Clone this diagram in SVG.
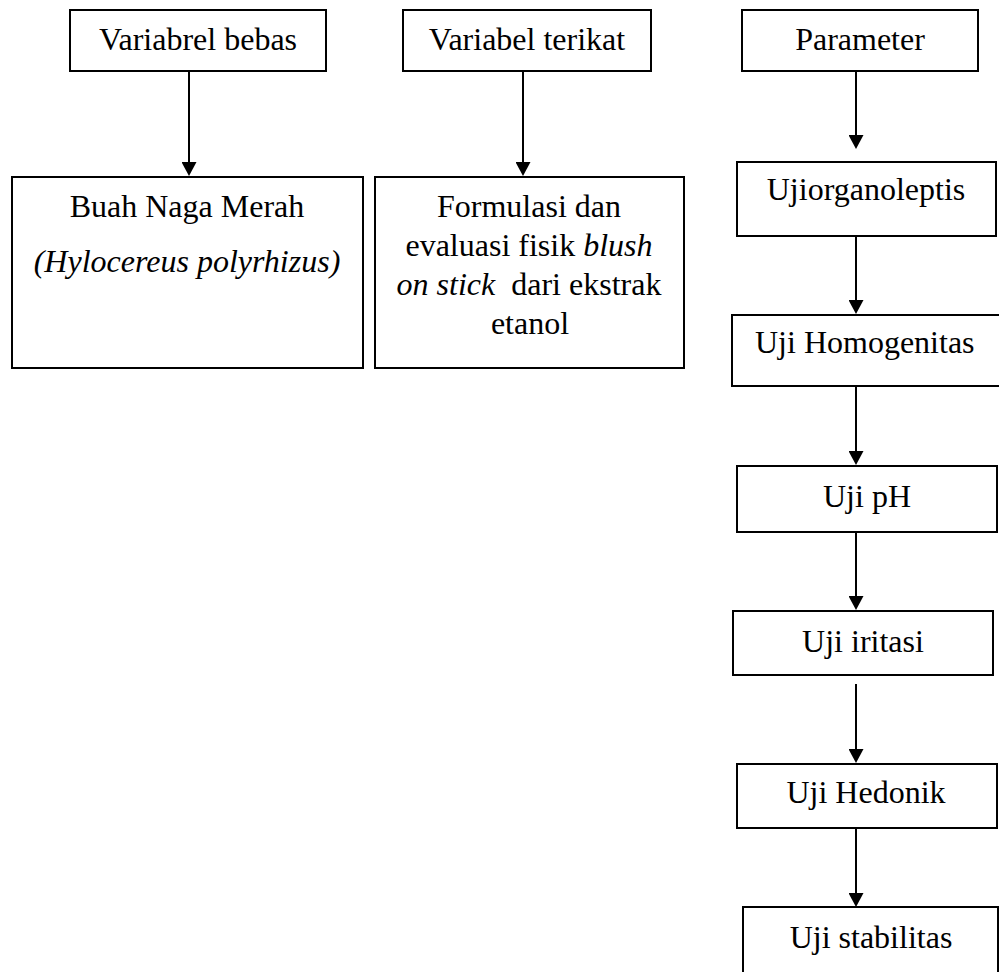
<svg xmlns="http://www.w3.org/2000/svg" width="999" height="972" viewBox="0 0 999 972">
<style>
  .box { fill: #ffffff; stroke: #000000; stroke-width: 2; }
  .t { font-family: "Liberation Serif", "Times New Roman", serif; font-size: 32px; fill: #000000; }
  .c { text-anchor: middle; }
  .i { font-style: italic; }
  .edge { stroke: #000000; stroke-width: 2; fill: none; marker-end: url(#arrow); }
</style>
<defs>
  <marker id="arrow" markerUnits="userSpaceOnUse" markerWidth="14" markerHeight="15" refX="10" refY="7.5" orient="auto">
    <path d="M0,0 L14,7.5 L0,15 Z" fill="#000000"/>
  </marker>
</defs>
<rect x="0" y="0" width="999" height="972" fill="#ffffff"/>

<g id="n1">
  <rect class="box" x="70" y="10" width="256" height="61"/>
  <text class="t c" x="198" y="50">Variabrel bebas</text>
</g>
<g id="n2">
  <rect class="box" x="403" y="10" width="248" height="61"/>
  <text class="t c" x="527" y="50">Variabel terikat</text>
</g>
<g id="n3">
  <rect class="box" x="742" y="10" width="236" height="61"/>
  <text class="t c" x="860" y="50">Parameter</text>
</g>
<g id="n4">
  <rect class="box" x="12" y="177" width="351" height="191"/>
  <text class="t c" x="187" y="217">Buah Naga Merah</text>
  <text class="t c i" x="187" y="272">(Hylocereus polyrhizus)</text>
</g>
<g id="n5">
  <rect class="box" x="375" y="177" width="309" height="191"/>
  <text class="t c" x="529" y="217">Formulasi dan</text>
  <text class="t c" x="529" y="256">evaluasi fisik <tspan class="i">blush</tspan></text>
  <text class="t c" x="529" y="295"><tspan class="i">on stick</tspan>&#160; dari ekstrak</text>
  <text class="t c" x="530" y="334">etanol</text>
</g>
<g id="n6">
  <rect class="box" x="737" y="162" width="259" height="74"/>
  <text class="t c" x="866" y="200">Ujiorganoleptis</text>
</g>
<g id="n7">
  <rect class="box" x="732" y="315" width="280" height="71"/>
  <text class="t" x="755" y="353">Uji Homogenitas</text>
</g>
<g id="n8">
  <rect class="box" x="737" y="466" width="260" height="66"/>
  <text class="t c" x="867" y="507">Uji pH</text>
</g>
<g id="n9">
  <rect class="box" x="733" y="611" width="260" height="64"/>
  <text class="t c" x="863" y="652">Uji iritasi</text>
</g>
<g id="n10">
  <rect class="box" x="737" y="764" width="260" height="64"/>
  <text class="t c" x="866" y="803">Uji Hedonik</text>
</g>
<g id="n11">
  <rect class="box" x="743" y="907" width="255" height="80"/>
  <text class="t c" x="871" y="948">Uji stabilitas</text>
</g>

<g id="connectors">
  <line class="edge" x1="189" y1="71" x2="189" y2="172"/>
  <line class="edge" x1="523" y1="71" x2="523" y2="172"/>
  <line class="edge" x1="856" y1="71" x2="856" y2="145"/>
  <line class="edge" x1="856" y1="236" x2="856" y2="310"/>
  <line class="edge" x1="856" y1="386" x2="856" y2="461"/>
  <line class="edge" x1="856" y1="532" x2="856" y2="606"/>
  <line class="edge" x1="856" y1="684" x2="856" y2="759"/>
  <line class="edge" x1="856" y1="828" x2="856" y2="903"/>
</g>
</svg>
